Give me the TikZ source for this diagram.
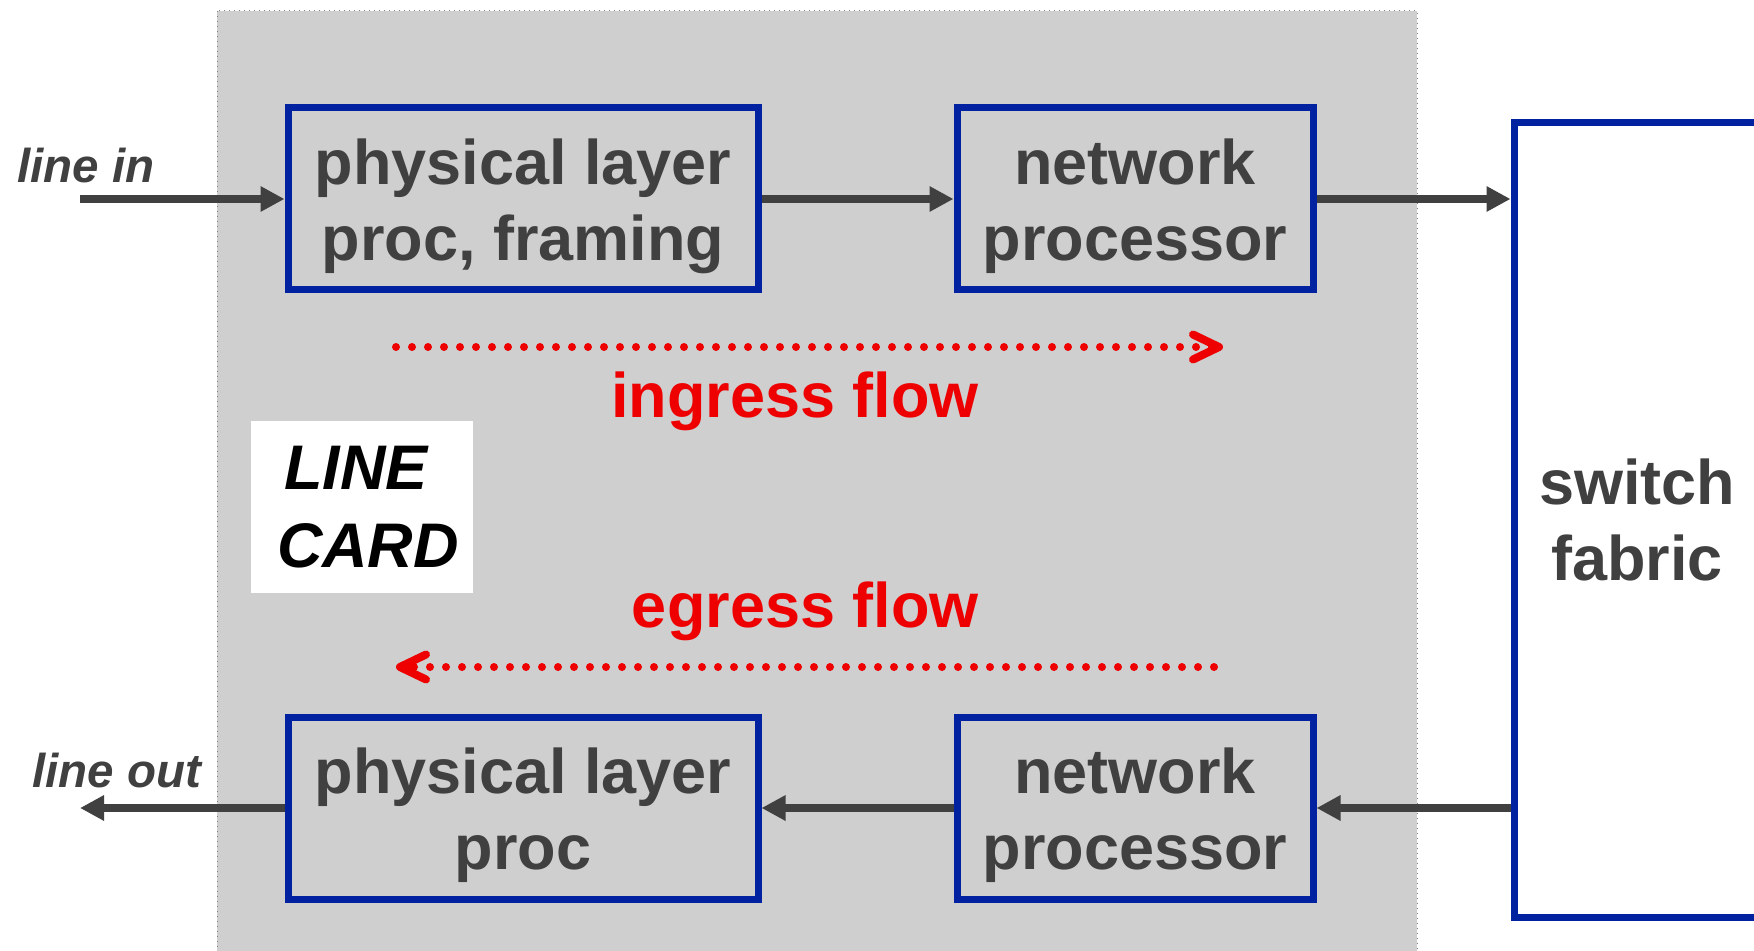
\documentclass[tikz,border=0pt]{standalone}
\usepackage{fontspec}
\setmainfont{Liberation Sans}
\usetikzlibrary{positioning, arrows.meta}

\definecolor{cardgray}{HTML}{CFCFCF}
\definecolor{boxblue}{HTML}{0022A0}
\definecolor{inkgray}{HTML}{404040}
\definecolor{flowred}{HTML}{EE0000}

\newcommand{\headroom}{\rule{0pt}{30pt}}

\begin{document}
\begin{tikzpicture}[x=0.5pt, y=-0.5pt, >={Triangle[length=12pt, width=12pt]}]
    \tikzset{stage/.style = {draw=boxblue, line width=3.5pt, align=center, text=inkgray,
                             font=\fontsize{31.5pt}{38pt}\selectfont\bfseries, minimum height=91pt},
             wire/.style = {draw=inkgray, line width=4pt, ->},
             flow/.style = {draw=flowred, line width=4pt, line cap=round, dash pattern=on 0pt off 8pt,
                            -{Straight Barb[length=13pt, width=12.5pt, line cap=round, line join=round]}},
             portlabel/.style = {text=inkgray, inner sep=0pt, font=\fontsize{23.75pt}{28pt}\selectfont\bfseries\itshape},
             flowlabel/.style = {text=flowred, inner sep=0pt, font=\fontsize{31.5pt}{38pt}\selectfont\bfseries}
            }
    \clip (0,0) rectangle (1754,951);
    % line card background
    \draw[fill=cardgray, draw=gray, line width=0.5pt, dotted] (217,11) rectangle (1417,990);
    \node (cardname) [fill=white, align=center, font=\fontsize{31.5pt}{39pt}\selectfont\bfseries\itshape,
                      minimum width=111pt, minimum height=85.5pt] at (362,507) {\hspace*{-6pt}LINE\\\hspace*{6pt}CARD};
    % blocks
    \node (phyin) [stage, minimum width=235pt] at (523,199) {\headroom physical layer\\proc, framing};
    \node (npin) [stage, minimum width=178pt] at (1135,199) {\headroom network\\processor};
    \node (phyout) [stage, minimum width=235pt] at (523,808) {\headroom physical layer\\proc};
    \node (npout) [stage, minimum width=178pt] at (1135,808) {\headroom network\\processor};
    \node (fabric) [stage, fill=white, minimum width=123pt, minimum height=397pt] at (1637,520) {switch\\fabric};
    % ports
    \coordinate (linein) at (80,199);
    \coordinate (lineout) at (80,808);
    \node (lineinlabel) [portlabel, anchor=base west] at (17,183) {line in};
    \node (lineoutlabel) [portlabel, anchor=base west] at (32,787) {line out};
    % connections
    \draw[wire] (linein) -- (phyin);
    \draw[wire] (phyin) -- (npin);
    \draw[wire] (npin.east) -- (npin.east -| fabric.west);
    \draw[wire] (fabric.west |- npout.east) -- (npout.east);
    \draw[wire] (npout) -- (phyout);
    \draw[wire] (phyout) -- (lineout);
    % flows
    \coordinate (ingstart) at (396,347);
    \coordinate (ingend) at (1223,347);
    \coordinate (egstart) at (1214,667);
    \coordinate (egend) at (396,667);
    \draw[flow] (ingstart) -- (ingend);
    \draw[flow] (egstart) -- (egend);
    \node (ingress) [flowlabel, anchor=base east] at (979,418) {ingress flow};
    \node (egress) [flowlabel, anchor=base east] at (979,627) {egress flow};
\end{tikzpicture}
\end{document}
